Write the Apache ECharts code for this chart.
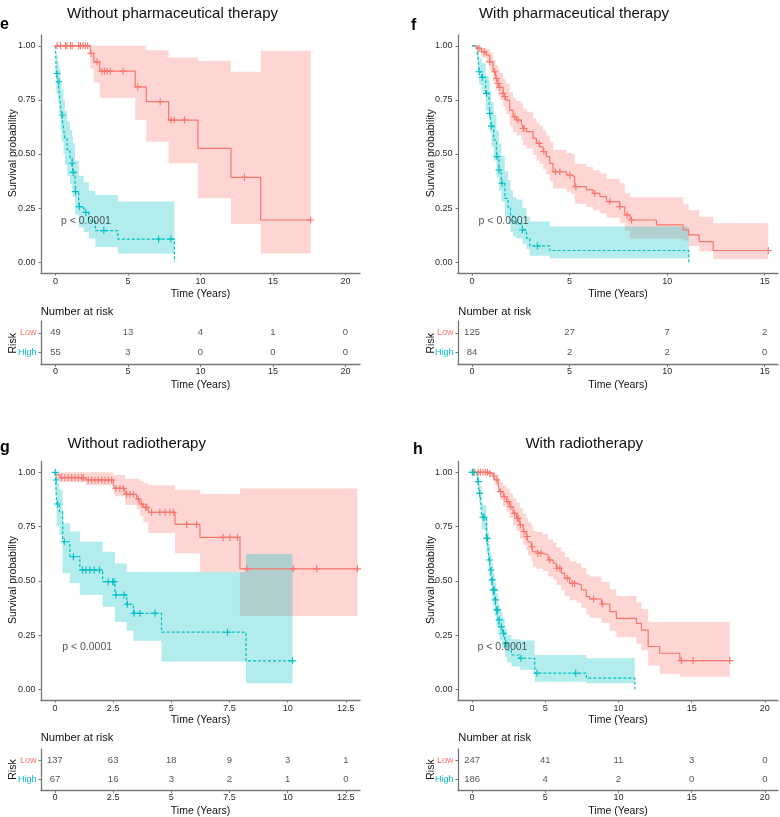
<!DOCTYPE html>
<html><head><meta charset="utf-8">
<script src="https://cdn.jsdelivr.net/npm/echarts@6/dist/echarts.min.js"></script>
<style>html,body{margin:0;padding:0;background:#fff}#c{width:780px;height:817px}</style>
</head><body><div id="c"></div>
<script>
// ---------------- DATA ----------------
const yTicks = [0, 0.25, 0.5, 0.75, 1];
const yTickLabels = ['0.00', '0.25', '0.50', '0.75', '1.00'];

// Panel e: Without pharmaceutical therapy
const eTicks = [0, 5, 10, 15, 20];
const eTickLabels = ['0', '5', '10', '15', '20'];
const eLowT = [0, 2.4, 2.64, 3.05, 5.5, 6.26, 7.8, 9.82, 12.1, 14.15, 17.6];
const eLowS = [1, 0.965, 0.926, 0.883, 0.81, 0.742, 0.657, 0.526, 0.392, 0.195, 0.195];
const eLowU = [1, 1, 1, 1, 1, 0.98, 0.946, 0.93, 0.88, 0.977, 0.977];
const eLowL = [1, 0.895, 0.83, 0.76, 0.657, 0.557, 0.457, 0.295, 0.177, 0.04, 0.04];
const eLowCens = [0.11, 0.34, 0.69, 0.8, 1.03, 1.15, 1.6, 1.72, 1.9, 2.06, 2.22, 2.45, 2.87, 3.2, 3.37, 3.55, 3.78, 4.66, 5.67, 7.22, 7.96, 8.19, 8.9, 13.03, 17.6];
const eHighT = [0, 0.05, 0.16, 0.25, 0.35, 0.43, 0.55, 0.65, 0.8, 1.0, 1.15, 1.2, 1.35, 1.6, 1.95, 2.3, 2.75, 4.3, 8.2];
const eHighS = [1, 0.872, 0.834, 0.79, 0.72, 0.68, 0.62, 0.57, 0.52, 0.48, 0.457, 0.415, 0.326, 0.257, 0.23, 0.19, 0.146, 0.107, 0];
const eHighU = [1, 0.96, 0.93, 0.89, 0.83, 0.80, 0.75, 0.70, 0.65, 0.61, 0.58, 0.55, 0.47, 0.40, 0.37, 0.33, 0.31, 0.28, 0.28];
const eHighL = [1, 0.78, 0.74, 0.69, 0.61, 0.56, 0.50, 0.45, 0.40, 0.36, 0.34, 0.30, 0.22, 0.16, 0.14, 0.11, 0.07, 0.04, 0.04];
const eHighCens = [0.11, 0.23, 0.46, 1.15, 1.22, 1.38, 1.65, 2.09, 3.33, 7.11, 7.96];
const eRiskT = [0, 5, 10, 15, 20];
const eRiskLow = [49, 13, 4, 1, 0];
const eRiskHigh = [55, 3, 0, 0, 0];

// Panel f: With pharmaceutical therapy
const fTicks = [0, 5, 10, 15];
const fTickLabels = ['0', '5', '10', '15'];
const fLowT = [0, 0.26, 0.48, 0.735, 0.906, 1.08, 1.21, 1.33, 1.42, 1.59, 1.68, 1.76, 1.93, 2.1, 2.27, 2.53, 2.62, 2.79, 3.13, 3.3, 3.47, 3.64, 3.81, 3.98, 4.15, 4.84, 5.09, 5.26, 5.86, 6.2, 6.55, 6.89, 7.57, 7.83, 8.09, 9.45, 10.82, 11.1, 11.64, 12.36, 15.18];
const fLowS = [1, 0.988, 0.972, 0.957, 0.926, 0.88, 0.849, 0.826, 0.808, 0.78, 0.765, 0.749, 0.703, 0.672, 0.657, 0.642, 0.618, 0.603, 0.572, 0.549, 0.534, 0.511, 0.488, 0.457, 0.418, 0.403, 0.395, 0.349, 0.334, 0.318, 0.303, 0.28, 0.257, 0.218, 0.195, 0.172, 0.149, 0.126, 0.095, 0.054, 0.054];
const fLowU = [1, 0.998, 0.99, 0.985, 0.97, 0.935, 0.91, 0.89, 0.875, 0.85, 0.84, 0.825, 0.785, 0.76, 0.745, 0.73, 0.71, 0.695, 0.665, 0.645, 0.63, 0.61, 0.585, 0.557, 0.52, 0.505, 0.50, 0.455, 0.44, 0.425, 0.41, 0.385, 0.365, 0.32, 0.30, 0.30, 0.27, 0.24, 0.21, 0.18, 0.18];
const fLowL = [1, 0.97, 0.945, 0.925, 0.885, 0.83, 0.795, 0.77, 0.75, 0.72, 0.70, 0.685, 0.63, 0.60, 0.585, 0.565, 0.54, 0.525, 0.495, 0.47, 0.455, 0.43, 0.405, 0.375, 0.34, 0.325, 0.315, 0.27, 0.255, 0.24, 0.225, 0.205, 0.18, 0.145, 0.11, 0.11, 0.10, 0.075, 0.05, 0.015, 0.015];
const fLowCens = [0.36, 0.62, 0.91, 1.16, 1.25, 1.33, 1.42, 1.59, 1.68, 2.19, 2.36, 2.62, 2.67, 3.44, 3.68, 4.27, 4.5, 5.01, 5.32, 6.29, 7.06, 7.57, 7.95, 8.17, 15.18];
const fHighT = [0, 0.19, 0.26, 0.31, 0.36, 0.5, 0.7, 0.87, 0.91, 0.99, 1.11, 1.25, 1.38, 1.5, 1.68, 1.85, 1.97, 2.1, 2.27, 2.58, 2.79, 2.96, 3.98, 11.11];
const fHighS = [1, 0.995, 0.98, 0.934, 0.88, 0.854, 0.78, 0.749, 0.688, 0.629, 0.565, 0.488, 0.426, 0.365, 0.295, 0.254, 0.214, 0.188, 0.177, 0.149, 0.111, 0.075, 0.054, 0];
const fHighU = [1, 1, 0.995, 0.975, 0.94, 0.92, 0.86, 0.84, 0.79, 0.74, 0.68, 0.61, 0.55, 0.49, 0.42, 0.38, 0.33, 0.30, 0.29, 0.25, 0.21, 0.188, 0.165, 0.165];
const fHighL = [1, 0.985, 0.955, 0.89, 0.82, 0.79, 0.70, 0.67, 0.60, 0.535, 0.47, 0.395, 0.33, 0.28, 0.21, 0.175, 0.14, 0.12, 0.11, 0.085, 0.06, 0.03, 0.018, 0.018];
const fHighCens = [0.36, 0.53, 0.74, 0.91, 0.99, 1.28, 1.38, 1.54, 2.58, 3.35];
const fRiskT = [0, 5, 10, 15];
const fRiskLow = [125, 27, 7, 2];
const fRiskHigh = [84, 2, 2, 0];

// Panel g: Without radiotherapy
const gTicks = [0, 2.5, 5, 7.5, 10, 12.5];
const gTickLabels = ['0', '2.5', '5', '7.5', '10', '12.5'];
const gLowT = [0, 0.07, 0.21, 1.33, 2.51, 2.58, 3.01, 3.51, 3.65, 3.8, 4.01, 5.16, 6.23, 7.95, 13.0];
const gLowS = [1, 0.988, 0.975, 0.965, 0.942, 0.926, 0.899, 0.877, 0.854, 0.839, 0.816, 0.76, 0.70, 0.555, 0.555];
const gLowU = [1, 1, 1, 1, 0.988, 0.988, 0.97, 0.97, 0.96, 0.95, 0.94, 0.92, 0.90, 0.926, 0.926];
const gLowL = [1, 0.965, 0.955, 0.94, 0.90, 0.89, 0.85, 0.83, 0.80, 0.77, 0.72, 0.627, 0.54, 0.338, 0.338];
const gLowCens = [0.29, 0.43, 0.57, 0.72, 0.86, 1.0, 1.15, 1.22, 1.43, 1.58, 1.72, 1.86, 2.01, 2.15, 2.29, 2.44, 2.62, 2.79, 2.94, 3.08, 3.22, 3.37, 3.58, 3.73, 3.9, 3.95, 4.15, 4.51, 4.73, 4.94, 5.09, 5.66, 6.09, 7.23, 7.52, 7.84, 8.24, 10.24, 11.25, 13.0];
const gHighT = [0, 0.03, 0.07, 0.19, 0.33, 0.64, 1.07, 2.05, 2.58, 3.08, 3.37, 4.58, 8.21, 10.21];
const gHighS = [1, 0.965, 0.854, 0.819, 0.68, 0.611, 0.55, 0.496, 0.435, 0.392, 0.35, 0.263, 0.131, 0.131];
const gHighU = [1, 1, 0.95, 0.92, 0.765, 0.727, 0.68, 0.634, 0.58, 0.54, 0.54, 0.54, 0.624, 0.624];
const gHighL = [1, 0.90, 0.75, 0.71, 0.535, 0.49, 0.435, 0.38, 0.31, 0.27, 0.224, 0.128, 0.028, 0.028];
const gHighCens = [0.01, 0.05, 0.11, 0.4, 0.79, 1.19, 1.33, 1.5, 1.69, 1.91, 2.29, 2.48, 2.54, 2.62, 2.97, 3.11, 3.4, 3.65, 4.3, 7.41, 10.21];
const gRiskT = [0, 2.5, 5, 7.5, 10, 12.5];
const gRiskLow = [137, 63, 18, 9, 3, 1];
const gRiskHigh = [67, 16, 3, 2, 1, 0];

// Panel h: With radiotherapy
const hTicks = [0, 5, 10, 15, 20];
const hTickLabels = ['0', '5', '10', '15', '20'];
const hLowT = [0, 1.21, 1.44, 1.55, 1.78, 1.89, 2.12, 2.35, 2.57, 2.8, 3.03, 3.26, 3.49, 3.71, 3.83, 4.05, 4.17, 4.4, 4.85, 5.19, 5.54, 5.76, 6.1, 6.33, 6.67, 7.13, 7.47, 7.81, 8.04, 8.84, 9.41, 9.86, 11.23, 11.57, 12.03, 12.82, 14.19, 17.61];
const hLowS = [1, 0.995, 0.983, 0.965, 0.942, 0.911, 0.888, 0.865, 0.842, 0.811, 0.788, 0.757, 0.727, 0.704, 0.68, 0.657, 0.634, 0.627, 0.619, 0.596, 0.581, 0.558, 0.535, 0.512, 0.488, 0.481, 0.458, 0.427, 0.416, 0.393, 0.358, 0.327, 0.304, 0.273, 0.197, 0.166, 0.132, 0.132];
const hLowU = [1, 1, 1, 0.99, 0.975, 0.955, 0.94, 0.925, 0.905, 0.88, 0.86, 0.835, 0.81, 0.79, 0.77, 0.75, 0.73, 0.725, 0.715, 0.69, 0.675, 0.655, 0.635, 0.61, 0.59, 0.58, 0.56, 0.53, 0.52, 0.495, 0.46, 0.43, 0.40, 0.37, 0.31, 0.31, 0.31, 0.31];
const hLowL = [1, 0.985, 0.965, 0.94, 0.91, 0.875, 0.845, 0.82, 0.79, 0.755, 0.73, 0.695, 0.665, 0.64, 0.615, 0.59, 0.565, 0.555, 0.545, 0.52, 0.505, 0.48, 0.455, 0.43, 0.41, 0.40, 0.375, 0.345, 0.33, 0.305, 0.27, 0.24, 0.21, 0.18, 0.11, 0.07, 0.058, 0.058];
const hLowCens = [0.18, 0.41, 0.57, 0.75, 0.91, 1.05, 1.21, 1.5, 1.7, 1.95, 2.2, 2.45, 2.65, 2.9, 3.1, 3.15, 3.3, 3.55, 3.75, 4.1, 4.5, 4.7, 5.3, 5.8, 6.0, 6.5, 6.85, 7.0, 8.3, 8.9, 14.3, 15.1, 17.61];
const hHighT = [0, 0.34, 0.41, 0.48, 0.57, 0.66, 0.75, 0.98, 1.09, 1.16, 1.25, 1.34, 1.44, 1.55, 1.66, 1.78, 1.89, 2.07, 2.23, 2.39, 2.69, 3.26, 4.28, 7.81, 11.12];
const hHighS = [1, 0.983, 0.957, 0.903, 0.888, 0.796, 0.793, 0.696, 0.657, 0.596, 0.55, 0.504, 0.458, 0.412, 0.366, 0.32, 0.289, 0.258, 0.212, 0.181, 0.158, 0.143, 0.074, 0.051, 0];
const hHighU = [1, 1, 0.99, 0.945, 0.935, 0.855, 0.85, 0.765, 0.725, 0.67, 0.625, 0.58, 0.535, 0.49, 0.44, 0.39, 0.36, 0.33, 0.28, 0.25, 0.23, 0.225, 0.158, 0.143, 0.143];
const hHighL = [1, 0.96, 0.925, 0.86, 0.84, 0.74, 0.735, 0.625, 0.585, 0.52, 0.475, 0.43, 0.38, 0.335, 0.29, 0.25, 0.225, 0.19, 0.15, 0.125, 0.105, 0.09, 0.035, 0.028, 0.028];
const hHighCens = [0.02, 0.07, 0.43, 0.52, 0.75, 0.82, 0.98, 1.05, 1.2, 1.3, 1.38, 1.46, 1.52, 1.6, 1.7, 1.75, 1.85, 2.0, 2.15, 2.3, 3.34, 4.43, 7.08];
const hRiskT = [0, 5, 10, 15, 20];
const hRiskLow = [247, 41, 11, 3, 0];
const hRiskHigh = [186, 4, 2, 0, 0];

const pText = 'p < 0.0001';
const riskLabels = ['Low', 'High'];

// ---------------- LAYOUT / STYLE ----------------
const FONT = '"Liberation Sans", Arial, Helvetica, sans-serif';
const RED = '#F8766D', CYAN = '#00BFC4';
const RED_FILL = 'rgba(248,118,109,0.3)', CYAN_FILL = 'rgba(0,191,196,0.3)';
const AX = '#777777', TXT = '#2b2b2b';
const PLUS = 'path://M4.2,0H5.8V4.2H10V5.8H5.8V10H4.2V5.8H0V4.2H4.2Z';

const panels = [
  {plot:{left:41, top:35, width:319, height:238}, table:{left:41, top:321, width:319, height:43.5},
   xmin:-1, xmax:21, ticks:eTicks, tickLabels:eTickLabels,
   low:{T:eLowT,S:eLowS,U:eLowU,L:eLowL,C:eLowCens}, high:{T:eHighT,S:eHighS,U:eHighU,L:eHighL,C:eHighCens},
   risk:{T:eRiskT, low:eRiskLow, high:eRiskHigh}, p:[0.34, 0.19]},
  {plot:{left:458, top:35, width:320, height:238}, table:{left:458, top:321, width:320, height:43.5},
   xmin:-0.72, xmax:15.68, ticks:fTicks, tickLabels:fTickLabels,
   low:{T:fLowT,S:fLowS,U:fLowU,L:fLowL,C:fLowCens}, high:{T:fHighT,S:fHighS,U:fHighU,L:fHighL,C:fHighCens},
   risk:{T:fRiskT, low:fRiskLow, high:fRiskHigh}, p:[0.31, 0.19]},
  {plot:{left:41, top:461.5, width:319, height:238.6}, table:{left:41, top:749, width:319, height:41.5},
   xmin:-0.6, xmax:13.11, ticks:gTicks, tickLabels:gTickLabels,
   low:{T:gLowT,S:gLowS,U:gLowU,L:gLowL,C:gLowCens}, high:{T:gHighT,S:gHighS,U:gHighU,L:gHighL,C:gHighCens},
   risk:{T:gRiskT, low:gRiskLow, high:gRiskHigh}, p:[0.29, 0.194]},
  {plot:{left:458, top:461.5, width:320, height:238.6}, table:{left:458, top:749, width:320, height:41.5},
   xmin:-0.96, xmax:20.9, ticks:hTicks, tickLabels:hTickLabels,
   low:{T:hLowT,S:hLowS,U:hLowU,L:hLowL,C:hLowCens}, high:{T:hHighT,S:hHighS,U:hHighU,L:hHighL,C:hHighCens},
   risk:{T:hRiskT, low:hRiskLow, high:hRiskHigh}, p:[0.34, 0.194]}
];

function labelFor(vals, labels) {
  return function (v) {
    for (let i = 0; i < vals.length; i++) if (Math.abs(vals[i] - v) < 1e-9) return labels[i];
    return '';
  };
}
function stepAt(T, S, t) {
  let v = S[0];
  for (let i = 0; i < T.length; i++) if (T[i] <= t + 1e-12) v = S[i];
  return v;
}
function bandSeries(ai, g, color) {
  return {
    type: 'custom', xAxisIndex: ai, yAxisIndex: ai, z: 1, silent: true, animation: false,
    data: [[g.T[0], g.L[0]]],
    renderItem: function (params, api) {
      const pts = [];
      const T = g.T, U = g.U, L = g.L;
      for (let i = 0; i < T.length - 1; i++) {
        pts.push(api.coord([T[i], U[i]]));
        pts.push(api.coord([T[i + 1], U[i]]));
      }
      for (let i = T.length - 2; i >= 0; i--) {
        pts.push(api.coord([T[i + 1], L[i]]));
        pts.push(api.coord([T[i], L[i]]));
      }
      return {type: 'polygon', shape: {points: pts}, style: {fill: color, stroke: null}};
    }
  };
}
function lineSeries(ai, g, color, dashed) {
  return {
    type: 'line', xAxisIndex: ai, yAxisIndex: ai, step: 'end', z: 3, silent: true, animation: false,
    symbol: 'none', showSymbol: false,
    data: g.T.map((t, i) => [t, g.S[i]]),
    lineStyle: {color: color, width: 1.2, type: dashed ? [3, 2] : 'solid'}
  };
}
function censorSeries(ai, g, color) {
  return {
    type: 'scatter', xAxisIndex: ai, yAxisIndex: ai, z: 4, silent: true, animation: false,
    symbol: PLUS, symbolSize: 7,
    itemStyle: {color: color, opacity: 1},
    data: g.C.map(t => [t, stepAt(g.T, g.S, t)])
  };
}

const grids = [], xAxes = [], yAxes = [], series = [];
panels.forEach(function (p, k) {
  const pi = 2 * k, ti = 2 * k + 1;
  grids.push(Object.assign({containLabel: false}, p.plot));
  grids.push(Object.assign({containLabel: false}, p.table));
  const xBase = function (gi, margin) {
    return {
      gridIndex: gi, type: 'value', min: p.xmin, max: p.xmax,
      axisLine: {show: true, onZero: false, lineStyle: {color: AX, width: 1.3}},
      axisTick: {show: true, length: 2.5, customValues: p.ticks, lineStyle: {color: AX, width: 1}},
      axisLabel: {show: true, customValues: p.ticks, margin: margin, fontSize: 9, color: TXT, fontFamily: FONT,
        formatter: labelFor(p.ticks, p.tickLabels)},
      splitLine: {show: false}
    };
  };
  xAxes.push(xBase(pi, 4));
  xAxes.push(xBase(ti, 2.5));
  yAxes.push({
    gridIndex: pi, type: 'value', min: -0.05, max: 1.05,
    axisLine: {show: true, onZero: false, lineStyle: {color: AX, width: 1.3}},
    axisTick: {show: true, length: 2.5, customValues: yTicks, lineStyle: {color: AX, width: 1}},
    axisLabel: {show: true, customValues: yTicks, margin: 5.5, fontSize: 9, color: TXT, fontFamily: FONT,
      formatter: labelFor(yTicks, yTickLabels)},
    splitLine: {show: false}
  });
  yAxes.push({
    gridIndex: ti, type: 'value', min: 0.4, max: 2.6,
    axisLine: {show: true, onZero: false, lineStyle: {color: AX, width: 1.3}},
    axisTick: {show: true, length: 2.5, customValues: [1, 2], lineStyle: {color: AX, width: 1}},
    axisLabel: {show: true, customValues: [1, 2], margin: 4.5, fontFamily: FONT,
      formatter: function (v) { return Math.abs(v - 2) < 1e-9 ? '{l|' + riskLabels[0] + '}' : '{h|' + riskLabels[1] + '}'; },
      rich: {l: {color: RED, fontSize: 9, fontFamily: FONT}, h: {color: CYAN, fontSize: 9, fontFamily: FONT}}},
    splitLine: {show: false}
  });
  series.push(bandSeries(pi, p.low, RED_FILL));
  series.push(bandSeries(pi, p.high, CYAN_FILL));
  series.push(lineSeries(pi, p.low, RED, false));
  series.push(lineSeries(pi, p.high, CYAN, true));
  series.push(censorSeries(pi, p.low, RED));
  series.push(censorSeries(pi, p.high, CYAN));
  series.push({
    type: 'scatter', xAxisIndex: pi, yAxisIndex: pi, z: 5, silent: true, animation: false,
    symbolSize: 1, itemStyle: {color: 'rgba(0,0,0,0)'},
    data: [p.p],
    label: {show: true, position: 'right', distance: 0, formatter: pText, fontSize: 10.5, color: TXT, fontFamily: FONT}
  });
  [[p.risk.low, 2], [p.risk.high, 1]].forEach(function (row) {
    series.push({
      type: 'scatter', xAxisIndex: ti, yAxisIndex: ti, z: 5, silent: true, animation: false,
      symbolSize: 1, itemStyle: {color: 'rgba(0,0,0,0)'},
      data: p.risk.T.map((t, i) => [t, row[1], row[0][i]]),
      label: {show: true, position: 'inside', formatter: function (d) { return String(d.value[2]); },
        fontSize: 9.5, color: TXT, fontFamily: FONT}
    });
  });
});

function txt(x, y, text, size, opts) {
  opts = opts || {};
  return {
    type: 'text', x: x, y: y, rotation: opts.rot || 0, silent: true,
    style: {text: text, fontSize: size, fontFamily: FONT, fontWeight: opts.bold ? 'bold' : 'normal',
      fill: opts.color || '#111', textAlign: opts.align || 'center', textVerticalAlign: 'middle',
      align: opts.align || 'center', verticalAlign: 'middle'}
  };
}
const R90 = Math.PI / 2;
const graphic = [
  txt(172.5, 13.5, 'Without pharmaceutical therapy', 15),
  txt(574, 13.5, 'With pharmaceutical therapy', 15),
  txt(136.7, 443.5, 'Without radiotherapy', 15),
  txt(584.2, 443.5, 'With radiotherapy', 15),
  txt(0, 24.9, 'e', 16, {bold: true, align: 'left', color: '#000'}),
  txt(411, 25.6, 'f', 16, {bold: true, align: 'left', color: '#000'}),
  txt(0, 447.5, 'g', 16, {bold: true, align: 'left', color: '#000'}),
  txt(413, 449.2, 'h', 16, {bold: true, align: 'left', color: '#000'}),
  txt(12.7, 153.3, 'Survival probability', 10.5, {rot: R90}),
  txt(431.1, 153.3, 'Survival probability', 10.5, {rot: R90}),
  txt(12.7, 580, 'Survival probability', 10.5, {rot: R90}),
  txt(431.1, 580, 'Survival probability', 10.5, {rot: R90}),
  txt(200.5, 294.2, 'Time (Years)', 10.5),
  txt(618, 294.2, 'Time (Years)', 10.5),
  txt(200.5, 720.5, 'Time (Years)', 10.5),
  txt(618, 720.5, 'Time (Years)', 10.5),
  txt(200.5, 384.7, 'Time (Years)', 10.5),
  txt(618, 384.7, 'Time (Years)', 10.5),
  txt(200.5, 811.3, 'Time (Years)', 10.5),
  txt(618, 811.3, 'Time (Years)', 10.5),
  txt(40.7, 312.4, 'Number at risk', 11.2, {align: 'left'}),
  txt(458.3, 312.4, 'Number at risk', 11.2, {align: 'left'}),
  txt(40.7, 738.4, 'Number at risk', 11.2, {align: 'left'}),
  txt(458.3, 738.4, 'Number at risk', 11.2, {align: 'left'}),
  txt(13, 343.3, 'Risk', 10.5, {rot: R90}),
  txt(431, 343.3, 'Risk', 10.5, {rot: R90}),
  txt(13, 769.5, 'Risk', 10.5, {rot: R90}),
  txt(431, 769.5, 'Risk', 10.5, {rot: R90})
];

const chart = echarts.init(document.getElementById('c'), null, {renderer: 'canvas'});
chart.setOption({
  animation: false,
  backgroundColor: '#ffffff',
  textStyle: {fontFamily: FONT},
  grid: grids, xAxis: xAxes, yAxis: yAxes, series: series, graphic: graphic
});
</script></body></html>
